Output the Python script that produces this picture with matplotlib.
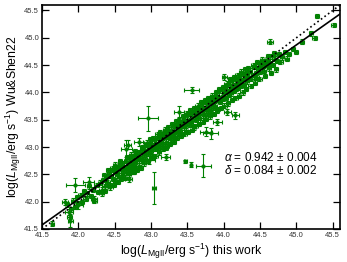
import matplotlib
matplotlib.use("Agg")
import matplotlib.pyplot as plt
import numpy as np

# output image
IMG_OUT = "out.png"

# fonts: helvetica-like text, sans mathtext
plt.rcParams["font.family"] = ["Liberation Sans", "DejaVu Sans"]
plt.rcParams["mathtext.fontset"] = "custom"
plt.rcParams["mathtext.rm"] = "Liberation Sans"
plt.rcParams["mathtext.it"] = "Liberation Sans:italic"
plt.rcParams["mathtext.bf"] = "Liberation Sans:bold"

# main band: log L (this work) vs log L (Wu&Shen22)
band_x = [41.84, 41.88, 41.90, 41.93, 41.95, 41.98, 42.00, 42.03, 42.05, 42.08,
	42.10, 42.12, 42.15, 42.17, 42.20, 42.22, 42.25, 42.27, 42.30, 42.32,
	42.34, 42.36, 42.38, 42.40, 42.42, 42.43, 42.45, 42.46, 42.48, 42.50,
	42.50, 42.52, 42.53, 42.55, 42.56, 42.58, 42.60, 42.60, 42.62, 42.63,
	42.65, 42.66, 42.68, 42.69, 42.70, 42.71, 42.72, 42.74, 42.75, 42.76,
	42.77, 42.78, 42.80, 42.80, 42.82, 42.83, 42.84, 42.85, 42.87, 42.88,
	42.90, 42.91, 42.92, 42.93, 42.95, 42.96, 42.97, 42.98, 43.00, 43.00,
	43.02, 43.03, 43.04, 43.05, 43.07, 43.08, 43.09, 43.10, 43.11, 43.12,
	43.14, 43.15, 43.16, 43.17, 43.18, 43.20, 43.21, 43.22, 43.23, 43.25,
	43.26, 43.27, 43.28, 43.30, 43.31, 43.32, 43.33, 43.35, 43.36, 43.37,
	43.38, 43.40, 43.40, 43.42, 43.43, 43.44, 43.45, 43.46, 43.47, 43.48,
	43.50, 43.50, 43.52, 43.53, 43.54, 43.55, 43.57, 43.58, 43.59, 43.60,
	43.61, 43.62, 43.63, 43.65, 43.66, 43.67, 43.68, 43.70, 43.71, 43.72,
	43.73, 43.74, 43.75, 43.77, 43.78, 43.79, 43.80, 43.81, 43.82, 43.84,
	43.85, 43.86, 43.87, 43.88, 43.90, 43.91, 43.92, 43.93, 43.94, 43.95,
	43.97, 43.98, 43.99, 44.00, 44.02, 44.03, 44.04, 44.05, 44.07, 44.08,
	44.09, 44.10, 44.12, 44.13, 44.14, 44.15, 44.17, 44.18, 44.19, 44.20,
	44.22, 44.23, 44.24, 44.26, 44.27, 44.28, 44.30, 44.31, 44.32, 44.34,
	44.36, 44.38, 44.40, 44.42, 44.44, 44.45, 44.47, 44.48, 44.50, 44.52,
	44.54, 44.55, 44.58, 44.60, 44.62, 44.64, 44.66, 44.68, 44.70, 44.73,
	44.76, 44.80, 44.84, 44.87, 44.90, 44.95, 44.99, 45.08, 45.20, 45.25,
	45.28, 45.51]
band_y = [41.95, 41.72, 41.86, 42.02, 41.90, 42.08, 41.97, 42.12, 41.99, 42.20,
	42.05, 42.15, 42.28, 42.10, 42.22, 42.02, 42.30, 42.18, 42.35, 42.22,
	42.40, 42.28, 42.45, 42.36, 42.50, 42.30, 42.47, 42.58, 42.42, 42.55,
	42.38, 42.62, 42.48, 42.53, 42.66, 42.45, 42.60, 42.70, 42.52, 42.64,
	42.58, 42.75, 42.62, 42.50, 42.68, 42.80, 42.60, 42.72, 42.66, 42.84,
	42.55, 42.76, 42.70, 42.88, 42.78, 42.66, 42.90, 42.80, 42.74, 42.94,
	42.85, 43.00, 42.78, 42.92, 43.05, 42.88, 42.98, 43.10, 42.93, 43.04,
	42.84, 43.00, 43.12, 42.96, 43.06, 43.16, 42.98, 43.08, 43.20, 43.02,
	43.12, 43.22, 43.05, 43.16, 43.26, 43.10, 43.20, 43.02, 43.28, 43.18,
	43.24, 43.12, 43.32, 43.22, 43.28, 43.38, 43.16, 43.30, 43.40, 43.26,
	43.34, 43.44, 43.30, 43.38, 43.24, 43.46, 43.36, 43.52, 43.42, 43.30,
	43.48, 43.56, 43.40, 43.50, 43.60, 43.44, 43.52, 43.64, 43.36, 43.56,
	43.62, 43.50, 43.70, 43.58, 43.66, 43.76, 43.54, 43.68, 43.60, 43.80,
	43.70, 43.58, 43.74, 43.84, 43.66, 43.78, 43.70, 43.88, 43.62, 43.80,
	43.72, 43.92, 43.84, 43.76, 43.96, 43.86, 43.70, 43.90, 44.02, 43.82,
	43.94, 44.06, 43.88, 43.98, 44.10, 43.90, 44.02, 44.14, 43.96, 44.06,
	44.20, 43.98, 44.10, 44.22, 44.02, 44.14, 44.06, 44.24, 44.16, 44.08,
	44.20, 44.30, 44.12, 44.22, 44.34, 44.14, 44.26, 44.36, 44.20, 44.30,
	44.40, 44.24, 44.32, 44.46, 44.36, 44.28, 44.42, 44.52, 44.38, 44.46,
	44.56, 44.40, 44.50, 44.60, 44.44, 44.54, 44.66, 44.50, 44.62, 44.58,
	44.70, 44.64, 44.74, 44.62, 44.70, 44.80, 44.74, 44.93, 45.08, 44.99,
	45.40, 45.23]
band_xerr = 0.03
band_yerr = 0.04

# wider scatter around the band
wide_x = [42.32, 42.35, 42.37, 42.41, 42.44, 42.47, 42.49, 42.51, 42.54, 42.57,
	42.59, 42.61, 42.64, 42.67, 42.70, 42.73, 42.75, 42.78, 42.79, 42.81,
	42.86, 42.88, 42.90, 42.94, 42.96, 42.99, 43.01, 43.03, 43.06, 43.09,
	43.11, 43.13, 43.16, 43.19, 43.21, 43.24, 43.26, 43.29, 43.31, 43.34,
	43.36, 43.39, 43.41, 43.44, 43.46, 43.49, 43.51, 43.54, 43.56, 43.59,
	43.61, 43.64, 43.66, 43.69, 43.71, 43.74, 43.76, 43.79, 43.81, 43.84,
	43.86, 43.89, 43.91, 43.94, 43.96, 43.99, 44.01, 44.04, 44.06, 44.09,
	44.11, 44.14, 44.16, 44.19, 44.21, 44.24, 44.26, 44.29, 44.31, 44.33,
	44.37, 44.41, 44.43, 44.46, 44.49, 44.53, 44.57, 44.61, 44.65, 44.69,
	44.72, 44.78]
wide_y = [42.15, 42.48, 42.20, 42.58, 42.26, 42.62, 42.30, 42.68, 42.36, 42.74,
	42.42, 42.46, 42.44, 42.82, 42.52, 42.86, 42.54, 42.92, 42.62, 42.58,
	42.62, 43.00, 42.70, 43.08, 42.74, 43.14, 42.80, 43.16, 42.84, 43.24,
	42.90, 43.28, 42.96, 43.32, 42.98, 43.36, 43.06, 43.42, 43.10, 43.48,
	43.16, 43.50, 43.20, 43.56, 43.24, 43.62, 43.28, 43.68, 43.32, 43.72,
	43.38, 43.76, 43.42, 43.82, 43.46, 43.86, 43.52, 43.90, 43.56, 43.94,
	43.60, 44.00, 43.66, 44.06, 43.72, 44.10, 43.76, 44.16, 43.80, 44.24,
	43.86, 44.28, 43.90, 44.32, 43.94, 44.38, 44.00, 44.42, 44.06, 44.44,
	44.12, 44.50, 44.18, 44.56, 44.24, 44.60, 44.30, 44.66, 44.36, 44.72,
	44.42, 44.56]

# sources with large error bars
out_x = [42.96, 41.96, 42.14, 43.72, 43.47, 43.55, 43.04, 41.89, 41.87, 41.64,
	42.66, 42.68, 42.83, 43.38, 43.56, 43.82, 43.76, 43.91, 44.01, 44.16,
	44.05, 44.64, 42.69, 42.21, 42.00, 41.82, 42.97, 43.20]
out_y = [43.53, 42.30, 42.36, 42.66, 42.74, 42.68, 42.25, 41.65, 41.81, 41.60,
	42.97, 43.04, 43.09, 43.65, 44.04, 43.25, 43.28, 43.46, 44.28, 43.58,
	43.64, 44.93, 42.42, 42.05, 41.93, 41.99, 42.76, 42.82]
out_xerr = [0.14, 0.13, 0.07, 0.10, 0.02, 0.02, 0.03, 0.03, 0.05, 0.02,
	0.08, 0.05, 0.06, 0.07, 0.10, 0.10, 0.08, 0.06, 0.03, 0.05,
	0.05, 0.04, 0.05, 0.04, 0.06, 0.04, 0.08, 0.06]
out_yerr = [0.23, 0.13, 0.10, 0.21, 0.03, 0.05, 0.30, 0.12, 0.06, 0.05,
	0.15, 0.08, 0.08, 0.10, 0.06, 0.10, 0.08, 0.06, 0.05, 0.06,
	0.06, 0.04, 0.06, 0.05, 0.06, 0.05, 0.07, 0.05]

# fit result
alpha = 0.942
alpha_err = 0.004
delta = 0.084
delta_err = 0.002
fit_b = 2.48

xlim = (41.5, 45.6)
ylim = (41.5, 45.6)

fig = plt.figure(figsize=(3.47, 2.62), dpi=100)
ax = fig.add_axes([0.121, 0.126, 0.859, 0.855])

# data with error bars
for px, py in ((band_x, band_y), (wide_x, wide_y)):
	ax.errorbar(px, py, xerr=band_xerr, yerr=band_yerr, fmt="o",
		color="green", ms=2.2, mfc="none", mew=0.8, elinewidth=0.8,
		capsize=1.2, capthick=0.8, zorder=2)
ax.errorbar(out_x, out_y, xerr=out_xerr, yerr=out_yerr, fmt="o",
	color="green", ms=2.2, mfc="none", mew=0.8, elinewidth=0.8,
	capsize=1.5, capthick=0.8, zorder=2)

# one to one line and best fit
ax.plot(xlim, ylim, ":", color="black", lw=1.2, zorder=3)
xx = np.array(xlim)
ax.plot(xx, alpha * xx + fit_b, "-", color="black", lw=1.2, zorder=3)

ax.text(44.0, 42.8, r"$\alpha$ = %.3f $\pm$ %.3f" % (alpha, alpha_err),
	fontsize=8.5, va="center")
ax.text(44.0, 42.57, r"$\delta$ = %.3f $\pm$ %.3f" % (delta, delta_err),
	fontsize=8.5, va="center")

ax.set_xlim(xlim)
ax.set_ylim(ylim)
ticks = np.arange(41.5, 45.51, 0.5)
ax.set_xticks(ticks)
ax.set_yticks(ticks)
ax.set_xticklabels(["%.1f" % t for t in ticks])
ax.set_yticklabels(["%.1f" % t for t in ticks])
ax.tick_params(direction="in", top=True, right=True, length=5, width=0.9,
	labelsize=5.5, pad=2, labelcolor="#333333")
for s in ax.spines.values():
	s.set_linewidth(1.2)

ax.set_xlabel(r"log($L_{\rm MgII}$/erg s$^{-1}$) this work", fontsize=8.8,
	labelpad=2)
ax.set_ylabel(r"log($L_{\rm MgII}$/erg s$^{-1}$) Wu&Shen22", fontsize=8.8,
	labelpad=1)

plt.savefig(IMG_OUT, dpi=100)
